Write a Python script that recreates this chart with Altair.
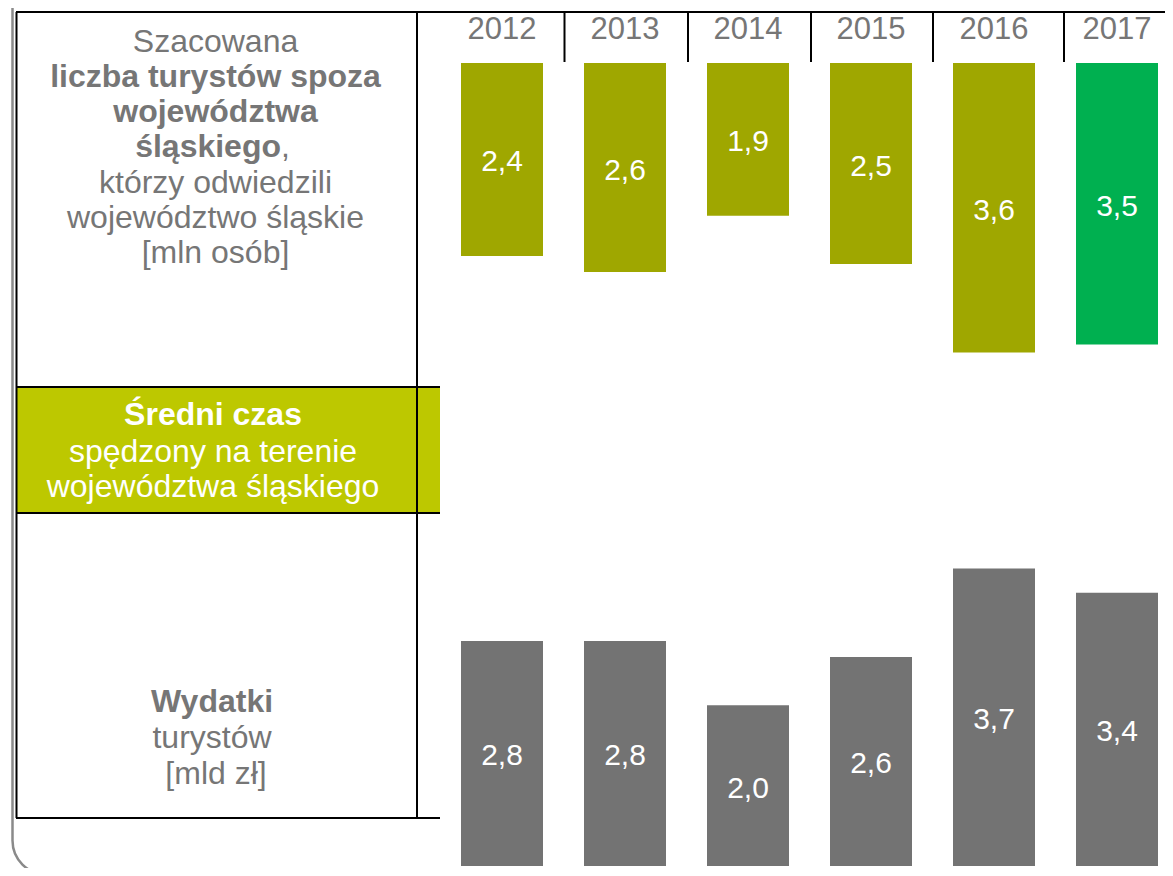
import altair as alt
import pandas as pd

# ---- data ----
years = ["2012", "2013", "2014", "2015", "2016", "2017"]
tourists_mln = [2.4, 2.6, 1.9, 2.5, 3.6, 3.5]      # Szacowana liczba turystów [mln osób]
spending_mld = [2.8, 2.8, 2.0, 2.6, 3.7, 3.4]      # Wydatki turystów [mld zł]
top_colors = ["#9FA700", "#9FA700", "#9FA700", "#9FA700", "#9FA700", "#00B050"]

panel1_lines = ["Szacowana", "liczba turystów spoza", "województwa", "śląskiego",
                "którzy odwiedzili", "województwo śląskie", "[mln osób]"]
panel1_bold = [False, True, True, True, False, False, False]
panel2_lines = ["Średni czas", "spędzony na terenie", "województwa śląskiego"]
panel2_bold = [True, False, False]
panel3_lines = ["Wydatki", "turystów", "[mld zł]"]
panel3_bold = [True, False, False]

FONT = "Liberation Sans"
GREY_TXT = "#767676"
OLIVE_BOX = "#BDC800"

df = pd.DataFrame({"year": years, "tourists": tourists_mln,
                   "spending": spending_mld, "color": top_colors})
one = pd.DataFrame({"d": [0]})

O = 8  # page margin offset (chart coords = page coords - 8)

x_scale = alt.Scale(domain=years, range=[502 - O - 61.5, 1117 - O + 61.5],
                    paddingInner=1 / 3, paddingOuter=1 / 6)
y_top = alt.Scale(domain=[0, 4], range=[63 - O, 63 - O + 4 * 80.4], nice=False, zero=False)
y_bot = alt.Scale(domain=[0, 4], range=[866 - O, 866 - O - 4 * 80.4], nice=False, zero=False)

layers = []

# outer rounded frame
layers.append(alt.Chart(one).mark_rect(fillOpacity=0, stroke="#8A8A8A", strokeWidth=2.5,
                                      cornerRadius=34).encode(
    x=alt.value(12.5 - O), x2=alt.value(1240), y=alt.value(-80), y2=alt.value(874.5 - O)))
# circle peeking at top
layers.append(alt.Chart(one).mark_point(shape="circle", size=26300, filled=False,
                                       stroke="#8A8A8A", strokeWidth=2.5, opacity=1).encode(
    x=alt.value(85 - O), y=alt.value(-78.5 - O)))
# green label box
layers.append(alt.Chart(one).mark_rect(fill=OLIVE_BOX).encode(
    x=alt.value(16 - O), x2=alt.value(440 - O), y=alt.value(387 - O), y2=alt.value(513 - O)))

# black grid lines
def hrule(y, x1, x2):
    return alt.Chart(one).mark_rule(color="black", strokeWidth=2).encode(
        x=alt.value(x1 - O), x2=alt.value(x2 - O), y=alt.value(y - O))

def vrule(x, y1, y2):
    return alt.Chart(one).mark_rule(color="black", strokeWidth=2).encode(
        x=alt.value(x - O), y=alt.value(y1 - O), y2=alt.value(y2 - O))

layers += [hrule(12, 16, 1180), hrule(387, 16, 440), hrule(513, 16, 440), hrule(818, 16, 440),
           vrule(16.5, 12, 818), vrule(417, 12, 818)]
for sx in [564.5, 688, 811, 933, 1064]:
    layers.append(vrule(sx, 12, 62))

base = alt.Chart(df)
X = alt.X("year:N", scale=x_scale, axis=None)

# top bars (hanging)
layers.append(base.mark_bar().encode(
    x=X, y=alt.Y("tourists:Q", scale=y_top, axis=None),
    color=alt.Color("color:N", scale=None, legend=None)))
layers.append(base.transform_calculate(
    mid="datum.tourists / 2",
    lab="replace(format(datum.tourists, '.1f'), '.', ',')").mark_text(
    font=FONT, fontSize=30, color="white", baseline="middle", dy=3).encode(
    x=X, y=alt.Y("mid:Q", scale=y_top, axis=None), text="lab:N"))

# bottom bars (rising)
layers.append(base.mark_bar(color="#737373").encode(
    x=X, y=alt.Y("spending:Q", scale=y_bot, axis=None)))
layers.append(base.transform_calculate(
    mid="datum.spending / 2",
    lab="replace(format(datum.spending, '.1f'), '.', ',')").mark_text(
    font=FONT, fontSize=30, color="white", baseline="middle", dy=3).encode(
    x=X, y=alt.Y("mid:Q", scale=y_bot, axis=None), text="lab:N"))

# year header labels
layers.append(base.mark_text(font=FONT, fontSize=31, color=GREY_TXT,
                             baseline="alphabetic").encode(
    x=X, y=alt.value(38.5 - O), text="year:N"))

def txt(s, x, y, bold, color, align="center"):
    return alt.Chart(one).mark_text(text=s, font=FONT, fontSize=32, color=color,
                                    fontWeight="bold" if bold else "normal",
                                    align=align, baseline="alphabetic").encode(
        x=alt.value(x - O), y=alt.value(y - O))

p1_base = [52, 87, 122, 157, 193, 228, 263]
for i, (s, b) in enumerate(zip(panel1_lines, panel1_bold)):
    if s == "śląskiego":
        layers.append(txt(s, 281, p1_base[i], True, GREY_TXT, align="right"))
        layers.append(txt(",", 281, p1_base[i], False, GREY_TXT, align="left"))
    else:
        layers.append(txt(s, 215.5, p1_base[i], b, GREY_TXT))

p2_base = [425, 462, 497]
for i, (s, b) in enumerate(zip(panel2_lines, panel2_bold)):
    layers.append(txt(s, 213, p2_base[i], b, "white"))

p3_base = [712, 748, 784]
p3_x = [212, 212, 216]
for i, (s, b) in enumerate(zip(panel3_lines, panel3_bold)):
    layers.append(txt(s, p3_x[i], p3_base[i], b, GREY_TXT))

chart = alt.layer(*layers).resolve_scale(y="independent").properties(
    width=1157, height=860, padding=0,
    autosize=alt.AutoSizeParams(type="none"),
).configure_view(stroke=None)

chart.save("out.html", embed_options={"renderer": "svg", "actions": False})
